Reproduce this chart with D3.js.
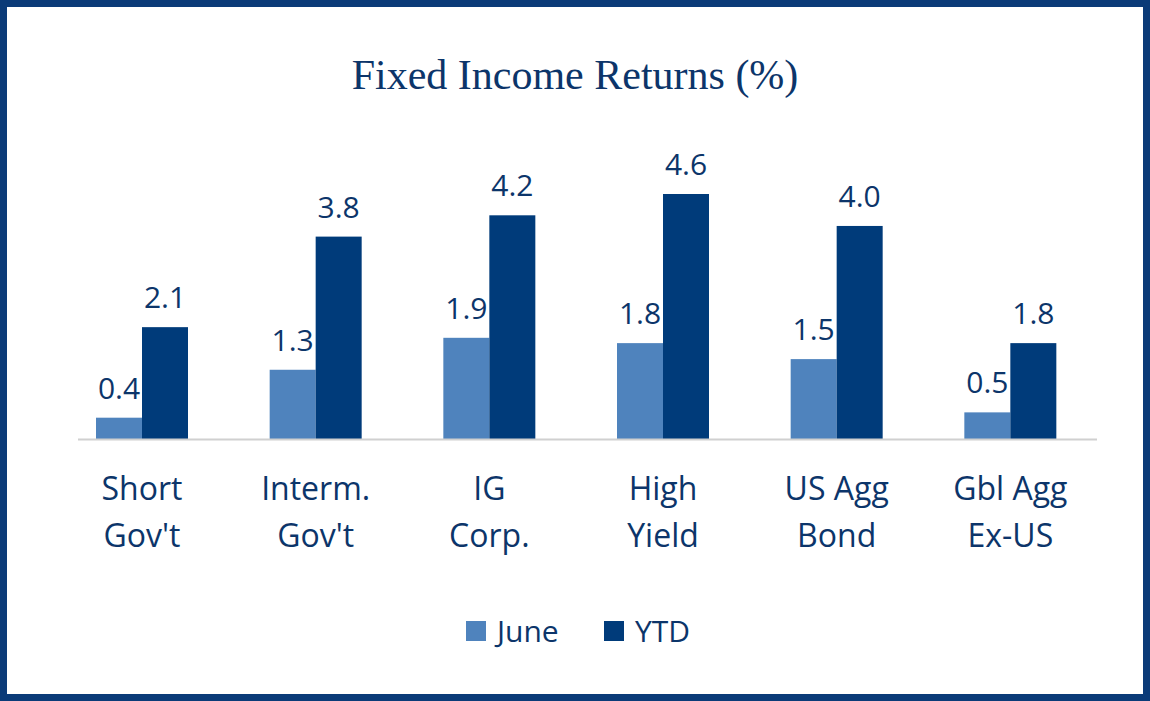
<!DOCTYPE html>
<html><head><meta charset="utf-8">
<script src="https://cdn.jsdelivr.net/npm/d3@7"></script>
<style>body{margin:0;background:#fff}</style>
</head><body>
<svg id="c" width="1150" height="701"></svg>
<script>
const categories = [["Short", "Gov't"], ["Interm.", "Gov't"], ["IG", "Corp."], ["High", "Yield"], ["US Agg", "Bond"], ["Gbl Agg", "Ex-US"]];
const june = [0.4, 1.3, 1.9, 1.8, 1.5, 0.5];
const ytd = [2.1, 3.8, 4.2, 4.6, 4.0, 1.8];
const seriesNames = ["June", "YTD"];
const colors = ["#4f83bd", "#003b7a"];
const textColor = "#0c356a";

const svg = d3.select("#c");
svg.append("rect").attr("x", 3.5).attr("y", 3.5).attr("width", 1143).attr("height", 694)
  .attr("fill", "none").attr("stroke", "#0b3b78").attr("stroke-width", 7);

svg.append("text").attr("x", 575).attr("y", 89).attr("text-anchor", "middle")
  .attr("font-family", "Liberation Serif, serif").attr("font-size", 42).attr("fill", textColor)
  .text("Fixed Income Returns (%)");

const x = d3.scaleBand().domain(d3.range(categories.length)).range([78, 1120]);
const y = d3.scaleLinear().domain([0, 4.6]).range([439, 194]);
const barW = 46, off = 18;

const series = [june, ytd];
series.forEach((vals, s) => {
  const g = svg.append("g");
  g.selectAll("rect").data(vals).join("rect")
    .attr("x", (d, i) => x(i) + off + s * barW).attr("width", barW)
    .attr("y", d => y(d)).attr("height", d => y(0) - y(d)).attr("fill", colors[s]);
  g.selectAll("text").data(vals).join("text")
    .attr("x", (d, i) => x(i) + off + s * barW + barW / 2).attr("y", d => y(d) - 19)
    .attr("text-anchor", "middle").attr("font-family", "Open Sans, sans-serif")
    .attr("font-size", 30).attr("fill", textColor).text(d => d.toFixed(1));
});

svg.append("line").attr("x1", 78).attr("x2", 1097).attr("y1", 439.5).attr("y2", 439.5)
  .attr("stroke", "#d0d0d0").attr("stroke-width", 2);

const cat = svg.append("g").selectAll("text").data(categories).join("text")
  .attr("text-anchor", "middle").attr("font-family", "Open Sans, sans-serif")
  .attr("font-size", 32).attr("fill", textColor);
cat.each(function (d, i) {
  d.forEach((line, k) => d3.select(this).append("tspan")
    .attr("x", x(i) + off + barW).attr("y", 500 + k * 47).text(line));
});

const leg = svg.append("g");
const legX = [466, 604];
seriesNames.forEach((n, s) => {
  leg.append("rect").attr("x", legX[s]).attr("y", 621).attr("width", 20).attr("height", 20).attr("fill", colors[s]);
  leg.append("text").attr("x", legX[s] + 31).attr("y", 642).attr("font-family", "Open Sans, sans-serif")
    .attr("font-size", 30).attr("fill", textColor).text(n);
});
</script>
</body></html>
